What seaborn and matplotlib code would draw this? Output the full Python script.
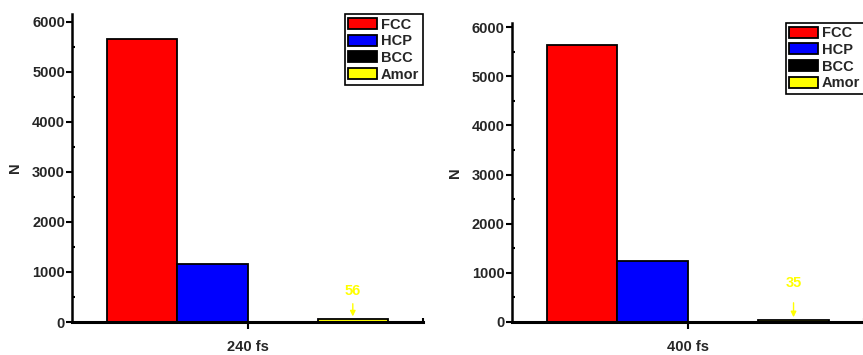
import matplotlib
matplotlib.use("Agg")
import matplotlib.pyplot as plt
import seaborn as sns
import pandas as pd
from matplotlib.ticker import MultipleLocator, FixedLocator

structures = ["FCC", "HCP", "BCC", "Amor"]
colors = ["#FF0000", "#0000FF", "#000000", "#FFFF00"]
times = ["240 fs", "400 fs"]
n_240 = [5660, 1160, 0, 56]
n_400 = [5640, 1240, 0, 35]
annot_values = [56, 35]

sns.set_theme(style="white")
plt.rcParams["font.family"] = ["Liberation Sans", "DejaVu Sans"]
plt.rcParams["font.weight"] = "bold"
plt.rcParams["axes.labelweight"] = "bold"

fig = plt.figure(figsize=(8.63, 3.55), dpi=100)
ax_pos = [
    [72 / 863, 1 - 322 / 355, (423 - 72) / 863, (322 - 14) / 355],
    [511.7 / 863, 1 - 321.7 / 355, (864 - 511.7) / 863, (321.7 - 22.7) / 355],
]
ylims = [(0, 6150), (0, 6095)]
text_y = [620, 789]
tail_y = [420, 442]
fs = 10.5

for i, (t, vals) in enumerate(zip(times, [n_240, n_400])):
    ax = fig.add_axes(ax_pos[i])
    df = pd.DataFrame({"time": [t] * len(structures), "structure": structures, "N": vals})
    sns.barplot(data=df, x="time", y="N", hue="structure", hue_order=structures,
                palette=colors, edgecolor="black", linewidth=1.3, ax=ax,
                width=0.8, saturation=1)
    ax.set_xlim(-0.5, 0.5)
    ax.set_ylim(*ylims[i])
    for s in ["top", "right"]:
        ax.spines[s].set_visible(False)
    ax.spines["left"].set_linewidth(1.8)
    ax.spines["bottom"].set_linewidth(2.2)
    ax.spines["left"].set_color("black")
    ax.spines["bottom"].set_color("black")
    ax.yaxis.set_major_locator(MultipleLocator(1000))
    ax.yaxis.set_minor_locator(MultipleLocator(500))
    ax.xaxis.set_minor_locator(FixedLocator([0.5]))
    ax.tick_params(axis="y", which="major", direction="out", length=4, width=1.5,
                   labelsize=fs, pad=1, left=True, color="black")
    ax.tick_params(axis="y", which="minor", direction="in", length=2.5, width=1.5, left=True, color="black")
    ax.tick_params(axis="x", which="major", direction="out", length=5, width=1.5,
                   labelsize=fs, pad=8, bottom=True, color="black")
    ax.tick_params(axis="x", which="minor", direction="in", length=3, width=1.5, bottom=True, color="black")
    for lab in ax.get_xticklabels() + ax.get_yticklabels():
        lab.set_fontweight("bold")
    ax.set_xlabel("")
    ax.set_ylabel("N", fontsize=fs, fontweight="bold", labelpad=7)

    amor = ax.patches[3]
    xc = amor.get_x() + amor.get_width() / 2
    ax.annotate("", xy=(xc, amor.get_height()), xytext=(xc, tail_y[i]),
                arrowprops=dict(arrowstyle="-|>", color="#FFFF00", lw=1, mutation_scale=8))
    ax.text(xc, text_y[i], str(annot_values[i]), color="#FFFF00", fontsize=fs,
            fontweight="bold", ha="center", va="center")

    leg = ax.legend(loc="upper right", bbox_to_anchor=(1.0, 1.0), borderaxespad=0,
                    fontsize=fs, handlelength=2.0, handleheight=0.8, labelspacing=0.18,
                    handletextpad=0.25, borderpad=0.25, fancybox=False, frameon=True)
    leg.get_frame().set_edgecolor("black")
    leg.get_frame().set_linewidth(1.2)
    leg.get_frame().set_alpha(1)
    for txt in leg.get_texts():
        txt.set_fontweight("bold")
    for h in leg.legend_handles:
        h.set_edgecolor("black")
        h.set_linewidth(1.3)

fig.savefig("out.png", dpi=100)
